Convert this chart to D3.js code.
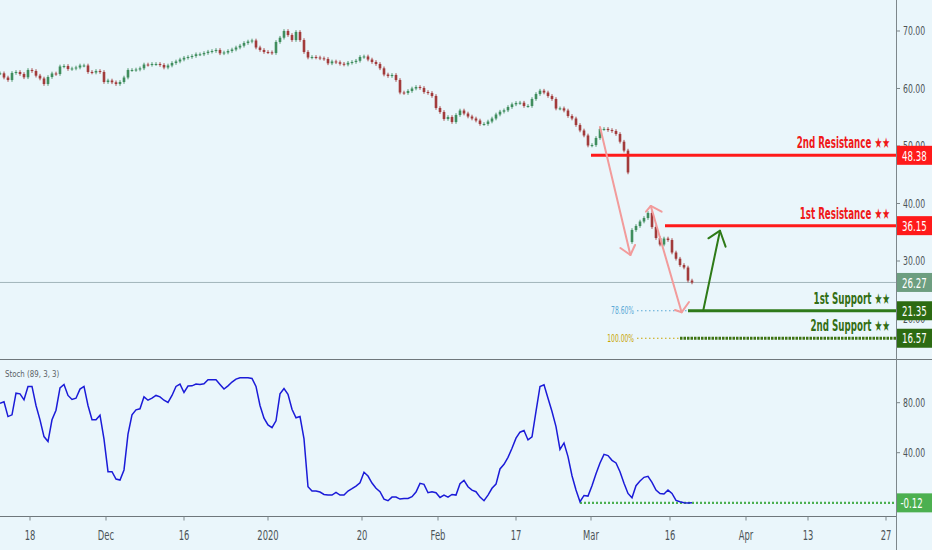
<!DOCTYPE html>
<html><head><meta charset="utf-8">
<script src="https://cdn.jsdelivr.net/npm/d3@7/dist/d3.min.js"></script>
<style>html,body{margin:0;padding:0;background:#eaf6fb;}svg{display:block;}</style>
</head><body>
<svg id="chart" width="932" height="550"></svg>
<script>
// ---- data ----
const closes = [62.64,61.91,61.48,62.70,62.87,62.52,61.95,63.22,63.04,62.23,
61.74,60.78,62.00,62.61,62.52,63.83,63.91,63.39,63.48,63.65,
64.00,64.00,62.87,62.78,63.04,62.87,61.13,61.39,61.08,60.78,
61.13,61.91,63.22,63.22,63.30,63.51,64.17,64.12,64.26,64.26,
64.09,63.65,64.00,64.43,64.70,65.04,65.34,65.48,65.65,65.95,
65.95,66.17,66.40,66.52,66.70,66.12,66.26,66.52,66.78,67.13,
67.44,67.91,68.17,68.35,67.13,66.70,66.35,66.30,66.17,68.09,
68.83,70.00,69.30,68.43,69.83,68.43,66.35,65.39,65.48,65.39,
65.25,65.13,64.38,64.70,64.56,64.30,64.17,64.47,64.61,64.82,
65.48,65.57,65.04,64.61,64.26,63.51,62.43,62.17,62.35,61.48,
59.30,59.22,59.57,60.00,60.26,60.09,59.39,59.22,58.70,56.61,
55.91,54.70,55.04,54.17,55.39,56.17,55.65,55.13,54.78,54.43,
53.83,53.83,54.26,54.78,55.48,55.97,56.21,56.78,57.25,57.48,
57.53,56.96,56.96,58.17,59.04,59.62,59.30,58.70,58.17,56.52,
56.55,56.17,55.22,54.78,53.65,52.70,51.83,50.09,50.17,51.39,
52.96,52.96,52.78,52.61,52.09,50.75,49.20,45.40,35.39,36.09,
36.87,37.48,38.35,35.91,34.00,32.87,33.91,33.65,31.48,30.40,
29.30,28.87,26.60,26.27];
const gapOpens = [[158, 33.3]];   // [bar index, open price] where price gapped
const stoch = [79.6,80.7,68.9,70.3,87.6,87.1,82.3,93.0,93.0,77.8,
66.3,52.9,48.9,66.3,74.0,91.9,94.6,85.8,82.6,83.6,
90.9,93.0,77.8,66.3,66.3,70.0,50.8,24.8,24.8,18.9,
18.1,26.2,54.8,70.3,74.3,75.1,84.7,82.0,83.6,85.8,
84.7,82.0,80.2,85.8,93.0,94.9,88.2,93.3,93.5,94.9,
94.6,95.1,98.3,98.3,98.3,94.6,90.9,93.5,96.5,98.9,
100,99.9,100,99.4,93.0,77.8,67.6,62.2,60.1,65.5,
87.1,91.4,86.8,74.8,67.9,68.9,51.0,12.8,9.3,9.3,
8.5,6.6,6.1,6.1,8.2,6.1,6.1,9.3,11.2,13.3,
16.0,24.3,21.3,15.7,11.5,8.8,2.9,1.6,4.5,4.5,
2.9,3.4,3.4,4.8,8.5,15.5,14.7,8.0,8.8,8.0,
4.2,6.1,4.5,6.6,6.1,15.2,17.9,12.8,10.1,8.8,
4.5,1.6,6.1,11.5,14.9,27.0,30.7,36.3,43.5,51.6,
56.4,57.7,50.2,52.6,73.0,93.0,94.3,83.6,73.0,60.9,
42.7,47.8,36.9,21.6,10.1,0.8,5.8,5.3,13.6,23.2,
31.8,38.7,37.7,33.9,31.8,24.8,15.5,7.4,4.0,13.6,
17.3,20.3,21.1,16.3,10.1,7.4,6.9,10.1,7.4,1.8,
0.8,0.0,-0.3,-0.12];
const timeLabels = ["18","Dec","16","2020","20","Feb","17","Mar","16","Apr","13","27"];
const timeTickBars = [7.5,26.5,46,67,90.5,109.5,129,147.75,167.5,186.5,202,221.5];
const priceTicks = [70,60,50,40,30,20];
const stochTicks = [80,40];
const levels = [
  {name:"2nd Resistance", value:48.38, from:147.75, kind:"res"},
  {name:"1st Resistance", value:36.15, from:166.25, kind:"res"},
  {name:"1st Support",    value:21.35, from:172,    kind:"sup"},
  {name:"2nd Support",    value:16.57, from:170,    kind:"sup2"}
];
const lastPrice = 26.27;
const lastStoch = -0.12, stochLineFrom = 145;
const fibs = [{label:"78.60%", value:21.35, from:159.25, to:172, color:"#5aa9d6"},
              {label:"100.00%", value:16.57, from:159.25, to:170, color:"#c9a400"}];
// arrows in [bar, price]
const pinkArrows = [
  {shaft:[[150,53.3],[157.6,31.04]], head:[[155.1,32.26],[157.6,31.04],[158.75,32.78]]},
  {shaft:[[162.7,39.57],[170.4,21.08]], head:[[168.75,21.48],[170.4,21.08],[172.25,22.87]],
   cap:[[161.5,38.57],[162.7,39.57],[165.4,38.57]]}
];
const greenArrow = {shaft:[[175.8,21.35],[180,35.27]], head:[[177.1,33.95],[180,35.27],[181.4,32.49]]};

// ---- layout ----
const W = 932, H = 550, R = 896;
const FONT = "'DejaVu Sans',sans-serif";
const x = d3.scaleLinear().domain([0,224]).range([0,R]);
const yP = d3.scaleLinear().domain([12.96,75.39]).range([359,0]);
const yS = d3.scaleLinear().domain([-10.64,114.16]).range([516,360]);

const svg = d3.select("#chart");
svg.append("rect").attr("width",W).attr("height",H).attr("fill","#eaf6fb");

// squeezed text helper (reference type is horizontally condensed)
function txt(x0, y0, s, o) {
  const t = svg.append("text").attr("x",x0).attr("y",y0)
    .attr("font-family",FONT).attr("font-size",o.size).attr("fill",o.fill)
    .attr("font-weight",o.weight||"normal")
    .attr("text-anchor",o.anchor||"start").attr("dy",o.dy===undefined?"0.35em":o.dy)
    .text(s);
  const len = t.node().getComputedTextLength();
  t.attr("textLength", len*(o.k||0.62)).attr("lengthAdjust","spacingAndGlyphs");
  return t;
}

svg.append("defs").append("clipPath").attr("id","pclip")
  .append("rect").attr("x",0).attr("y",0).attr("width",R).attr("height",359);

// current price line
svg.append("line").attr("x1",0).attr("x2",R).attr("y1",yP(lastPrice)).attr("y2",yP(lastPrice))
  .attr("stroke","#a3b5ba").attr("stroke-width",1);

// candles
const opens = closes.map((c,i)=> i===0 ? c : closes[i-1]);
gapOpens.forEach(([i,o])=>{ opens[i]=o; });
const cg = svg.append("g").attr("clip-path","url(#pclip)");
closes.forEach((c,i)=>{
  const o = opens[i];
  const up = c >= o;
  const col = up ? "#3f8d5d" : "#a23b3b";
  const yt = yP(Math.max(o,c)), yb = yP(Math.min(o,c));
  cg.append("line").attr("x1",x(i)).attr("x2",x(i)).attr("y1",yt-1.8).attr("y2",yb+1.8)
    .attr("stroke",col).attr("stroke-width",0.9);
  cg.append("rect").attr("x",x(i)-1.3).attr("width",2.6).attr("y",yt).attr("height",Math.max(1,yb-yt))
    .attr("fill",col);
});

// fib dotted lines + labels
fibs.forEach(f=>{
  svg.append("line").attr("x1",x(f.from)).attr("x2",x(f.to)).attr("y1",yP(f.value)).attr("y2",yP(f.value))
    .attr("stroke",f.color).attr("stroke-width",1.2).attr("stroke-dasharray","1.5,2.5");
  txt(x(f.from)-3, yP(f.value), f.label, {size:10, fill:f.color, anchor:"end", k:0.6});
});

// level lines
const levCol = {res:"#ff1a1a", sup:"#2f7a1a", sup2:"#3a6f12"};
levels.forEach(l=>{
  const y = yP(l.value);
  if (l.kind==="sup2") {
    svg.append("line").attr("x1",x(l.from)).attr("x2",R).attr("y1",y).attr("y2",y)
      .attr("stroke","#3f7414").attr("stroke-width",3).attr("stroke-dasharray","2.5,1");
  } else {
    svg.append("line").attr("x1",x(l.from)).attr("x2",R).attr("y1",y).attr("y2",y)
      .attr("stroke",levCol[l.kind]).attr("stroke-width",3);
  }
  txt(890, y-7, l.name+" \u2605\u2605", {size:15, weight:"bold", anchor:"end", dy:0, k:0.58,
      fill: l.kind==="res" ? "#f01818" : "#336e14"});
});

// arrows
const pt = d=>[x(d[0]),yP(d[1])];
const line = d3.line();
pinkArrows.forEach(a=>{
  const g = svg.append("g").attr("stroke","#f29b9b").attr("stroke-width",2).attr("fill","none")
    .attr("stroke-linecap","round").attr("stroke-linejoin","round");
  g.append("path").attr("d",line(a.shaft.map(pt)));
  g.append("path").attr("d",line(a.head.map(pt)));
  if (a.cap) g.append("path").attr("d",line(a.cap.map(pt)));
});
{
  const g = svg.append("g").attr("stroke","#2e7a17").attr("stroke-width",2).attr("fill","none")
    .attr("stroke-linecap","round").attr("stroke-linejoin","round");
  g.append("path").attr("d",line(greenArrow.shaft.map(pt)));
  g.append("path").attr("d",line(greenArrow.head.map(pt)));
}

// pane separators and axis lines
svg.append("line").attr("x1",0).attr("x2",W).attr("y1",359.5).attr("y2",359.5).attr("stroke","#6f777b");
svg.append("line").attr("x1",0).attr("x2",R).attr("y1",516.5).attr("y2",516.5).attr("stroke","#6f777b");
svg.append("line").attr("x1",R+0.5).attr("x2",R+0.5).attr("y1",0).attr("y2",H).attr("stroke","#7d878b");

// price axis
priceTicks.forEach(v=>{
  const y = yP(v);
  svg.append("line").attr("x1",R).attr("x2",R+4).attr("y1",y).attr("y2",y).attr("stroke","#7d878b");
  txt(903, y, v.toFixed(2), {size:12.5, fill:"#4d5457", k:0.62});
});
// price label boxes
const boxes = [
  {v:48.38, c:"#ff1a1a"}, {v:36.15, c:"#ff1a1a"}, {v:lastPrice, c:"#6d9e80"},
  {v:21.35, c:"#2c6b12"}, {v:16.57, c:"#2c6b12"}];
boxes.forEach(b=>{
  const y = yP(b.v);
  svg.append("rect").attr("x",R+1).attr("y",y-9.5).attr("width",W-R-1).attr("height",19).attr("fill",b.c);
  txt(902, y+0.5, b.v.toFixed(2), {size:13.5, fill:"#ffffff", k:0.64});
});

// stoch pane
txt(5, 374, "Stoch (89, 3, 3)", {size:9, fill:"#5a6266", k:0.78});
svg.append("line").attr("x1",x(stochLineFrom)).attr("x2",R).attr("y1",yS(lastStoch)).attr("y2",yS(lastStoch))
  .attr("stroke","#4cb050").attr("stroke-width",2.2).attr("stroke-dasharray","2,2");
svg.append("path").datum(stoch)
  .attr("d", d3.line().x((d,i)=>x(i)).y(d=>yS(d)))
  .attr("fill","none").attr("stroke","#1b1bd8").attr("stroke-width",1.5);
stochTicks.forEach(v=>{
  const y = yS(v);
  svg.append("line").attr("x1",R).attr("x2",R+4).attr("y1",y).attr("y2",y).attr("stroke","#7d878b");
  txt(903, y, v.toFixed(2), {size:12.5, fill:"#4d5457", k:0.62});
});
{
  const y = yS(lastStoch);
  svg.append("rect").attr("x",R+1).attr("y",y-9.5).attr("width",W-R-1).attr("height",19).attr("fill","#4cb050");
  txt(900.5, y+0.5, lastStoch.toFixed(2), {size:13.5, fill:"#ffffff", k:0.64});
}

// time axis
timeLabels.forEach((t,i)=>{
  const xx = x(timeTickBars[i]);
  svg.append("line").attr("x1",xx).attr("x2",xx).attr("y1",516.5).attr("y2",520.5).attr("stroke","#7d878b");
  txt(xx, 535, t, {size:14, fill:"#4d5457", anchor:"middle", k:0.6});
});
</script>
</body></html>
